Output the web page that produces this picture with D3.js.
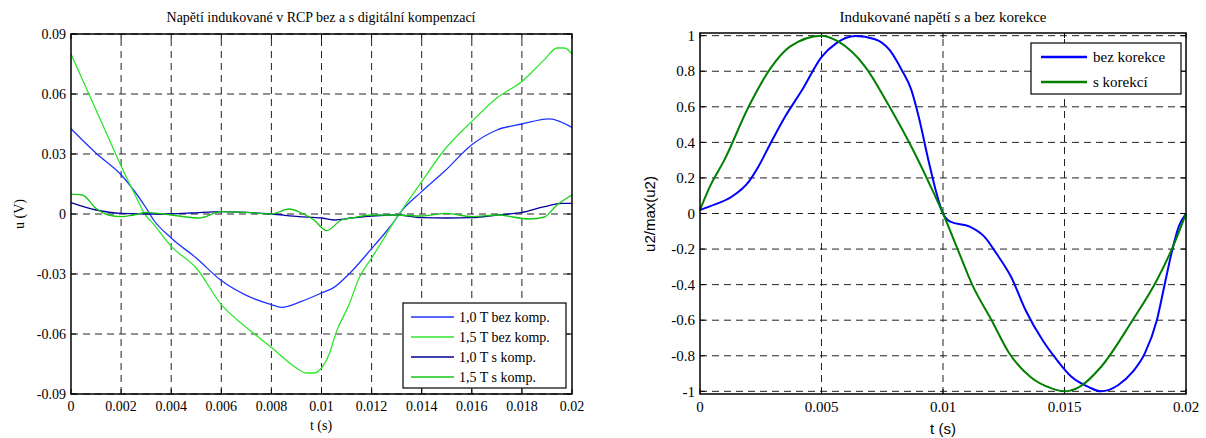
<!DOCTYPE html>
<meta charset="utf-8">
<head>
  <script src="https://d3js.org/d3.v7.min.js"></script>
</head>
<style>
body { margin: 0; background: white; }
.grid line { stroke: #222; stroke-dasharray: 7,5; stroke-width: 1; }
.serif { font-family: "Liberation Serif", "Times New Roman", serif; }
.sans { font-family: "Liberation Sans", Arial, sans-serif; }
</style>
<body>
<svg width="1206" height="438" id="container"></svg>
<script>

// ---- left chart data (t in s, u in V) ----
var t10bez = [0, 0.001, 0.002, 0.0025, 0.003, 0.0033, 0.004, 0.005, 0.006, 0.007, 0.008, 0.0084, 0.0092, 0.010, 0.0105, 0.0111, 0.012, 0.0125, 0.0129, 0.0131, 0.014, 0.0149, 0.016, 0.017, 0.018, 0.0191, 0.02];
var u10bez = [0.0426, 0.0304, 0.0196, 0.012, 0.003, -0.003, -0.012, -0.022, -0.0333, -0.0407, -0.0453, -0.0467, -0.0437, -0.0395, -0.0367, -0.030, -0.0173, -0.010, -0.0037, 0, 0.0112, 0.0212, 0.0346, 0.042, 0.045, 0.0476, 0.0433];

var t15bez = [0, 0.0005, 0.001, 0.0015, 0.002, 0.0025, 0.003, 0.0032, 0.004, 0.005, 0.006, 0.007, 0.008, 0.009, 0.0094, 0.0097, 0.010, 0.0103, 0.0106, 0.0111, 0.0115, 0.012, 0.0125, 0.0129, 0.0131, 0.014, 0.0149, 0.016, 0.017, 0.018, 0.0189, 0.0194, 0.0197, 0.02];
var u15bez = [0.080, 0.066, 0.052, 0.038, 0.024, 0.011, -0.001, -0.0037, -0.0162, -0.027, -0.0453, -0.0567, -0.0667, -0.077, -0.0795, -0.0795, -0.077, -0.0703, -0.0587, -0.0453, -0.032, -0.022, -0.012, -0.0037, 0, 0.0162, 0.032, 0.0463, 0.058, 0.0663, 0.0772, 0.083, 0.083, 0.080];

var t10s = [0, 0.001, 0.002, 0.0033, 0.0048, 0.006, 0.007, 0.008, 0.0091, 0.010, 0.0105, 0.0112, 0.012, 0.013, 0.014, 0.015, 0.016, 0.017, 0.018, 0.0189, 0.0196, 0.02];
var u10s = [0.0057, 0.002, 0.0003, 0, 0.0005, 0.0012, 0.0008, 0, -0.0013, -0.002, -0.003, -0.002, -0.001, -0.0005, -0.0018, -0.002, -0.0018, -0.0005, 0.0008, 0.0037, 0.0053, 0.0053];

var t15s = [0, 0.00045, 0.001, 0.0015, 0.002, 0.0025, 0.003, 0.004, 0.0051, 0.006, 0.007, 0.008, 0.0087, 0.0092, 0.0097, 0.0102, 0.0108, 0.0112, 0.012, 0.013, 0.014, 0.015, 0.016, 0.017, 0.0183, 0.0189, 0.0194, 0.02];
var u15s = [0.0099, 0.0095, 0.0028, -0.0005, -0.0013, -0.0005, 0.0008, -0.0005, -0.002, 0.0012, 0.0008, 0, 0.0025, 0.0005, -0.003, -0.0083, -0.003, -0.002, -0.0005, -0.0005, -0.001, 0.0003, -0.0013, -0.0005, -0.0025, -0.0015, 0.0045, 0.0095];

var leftXTicks = [0, 0.002, 0.004, 0.006, 0.008, 0.01, 0.012, 0.014, 0.016, 0.018, 0.02];
var leftYTicks = [-0.09, -0.06, -0.03, 0, 0.03, 0.06, 0.09];
var leftLabels = ['1,0 T bez komp.', '1,5 T bez komp.', '1,0 T s komp.', '1,5 T s komp.'];

// ---- right chart data (normalised) ----
var tBez = [0, 0.0004, 0.0013, 0.002, 0.0024, 0.0029, 0.0035, 0.0042, 0.005, 0.0056, 0.0064, 0.0072, 0.0078, 0.0083, 0.0087, 0.009, 0.0094, 0.0097, 0.01, 0.0103, 0.0111, 0.0117, 0.0122, 0.0128, 0.0134, 0.0141, 0.0147, 0.0153, 0.016, 0.0165, 0.0172, 0.0178, 0.0183, 0.0188, 0.0191, 0.0194, 0.0197, 0.02];
var uBez = [0.02, 0.04, 0.094, 0.178, 0.263, 0.394, 0.544, 0.694, 0.88, 0.957, 0.998, 0.98, 0.92, 0.807, 0.694, 0.544, 0.30, 0.131, 0, -0.046, -0.074, -0.13, -0.225, -0.356, -0.544, -0.713, -0.826, -0.92, -0.976, -1.0, -0.966, -0.891, -0.788, -0.6, -0.413, -0.225, -0.074, 0];

var tKor = [0, 0.0004, 0.001, 0.002, 0.0029, 0.0037, 0.005, 0.0057, 0.0068, 0.0078, 0.0087, 0.0095, 0.01, 0.0106, 0.0112, 0.012, 0.0127, 0.0136, 0.0145, 0.015, 0.0156, 0.0165, 0.0178, 0.0188, 0.0194, 0.02];
var uKor = [0.02, 0.15, 0.30, 0.60, 0.816, 0.938, 1.0, 0.966, 0.825, 0.60, 0.375, 0.15, 0, -0.2, -0.4, -0.6, -0.78, -0.92, -0.985, -1.0, -0.976, -0.863, -0.6, -0.375, -0.206, 0];

var rightXTicks = [0, 0.005, 0.01, 0.015, 0.02];
var rightYTicks = [-1, -0.8, -0.6, -0.4, -0.2, 0, 0.2, 0.4, 0.6, 0.8, 1];
var rightLabels = ['bez korekce', 's korekcí'];

var svg = d3.select('#container');
// plain hyphen minus like the original
var loc = d3.formatLocale({decimal: '.', thousands: ',', grouping: [3], currency: ['', ''], minus: '-'});

function zip(ts, us) {
  return ts.map(function(t, i) { return [t, us[i]]; });
}

function drawFrame(g, x, y, xTicks, yTicks, fmtX, fmtY, fs, boxW) {
  var x0 = x.range()[0], x1 = x.range()[1],
      y0 = y.range()[0], y1 = y.range()[1];

  var grid = g.append('g').attr('class', 'grid');
  grid.selectAll('.gx').data(xTicks.slice(1, -1)).enter().append('line')
      .attr('x1', function(d) { return x(d); }).attr('x2', function(d) { return x(d); })
      .attr('y1', y0).attr('y2', y1);
  grid.selectAll('.gy').data(yTicks).enter().append('line')
      .attr('y1', function(d) { return y(d); }).attr('y2', function(d) { return y(d); })
      .attr('x1', x0).attr('x2', x1);

  // inward ticks on all four sides
  var tk = g.append('g').attr('stroke', '#000').attr('stroke-width', 1);
  xTicks.forEach(function(d) {
    tk.append('line').attr('x1', x(d)).attr('x2', x(d)).attr('y1', y0).attr('y2', y0 - 5);
    tk.append('line').attr('x1', x(d)).attr('x2', x(d)).attr('y1', y1).attr('y2', y1 + 5);
  });
  yTicks.forEach(function(d) {
    tk.append('line').attr('y1', y(d)).attr('y2', y(d)).attr('x1', x0).attr('x2', x0 + 5);
    tk.append('line').attr('y1', y(d)).attr('y2', y(d)).attr('x1', x1).attr('x2', x1 - 5);
  });

  g.selectAll('.xl').data(xTicks).enter().append('text')
   .attr('class', 'serif')
   .attr('x', function(d) { return x(d); })
   .attr('y', y0 + fs + 3)
   .attr('text-anchor', 'middle')
   .attr('font-size', fs + 'px')
   .text(fmtX);
  g.selectAll('.yl').data(yTicks).enter().append('text')
   .attr('class', 'serif')
   .attr('x', x0 - 5)
   .attr('y', function(d) { return y(d); })
   .attr('dy', '0.35em')
   .attr('text-anchor', 'end')
   .attr('font-size', fs + 'px')
   .text(fmtY);

  return function() {
    g.append('rect')
     .attr('x', x0).attr('y', y1)
     .attr('width', x1 - x0).attr('height', y0 - y1)
     .attr('fill', 'none').attr('stroke', '#000').attr('stroke-width', boxW);
  };
}

// ---------------- left chart ----------------
var left = svg.append('g');
var xL = d3.scaleLinear().domain([0, 0.02]).range([71, 572]);
var yL = d3.scaleLinear().domain([-0.09, 0.09]).range([394, 34]);

var boxL = drawFrame(left, xL, yL, leftXTicks, leftYTicks,
  function(d) { return d === 0 ? '0' : loc.format('.3~f')(d); },
  function(d) { return d === 0 ? '0' : loc.format('.2f')(d); }, 14, 1.5);

var lineL = d3.line().x(function(d) { return xL(d[0]); }).y(function(d) { return yL(d[1]); })
              .curve(d3.curveMonotoneX);
var leftSeries = [
  {pts: zip(t10bez, u10bez), color: '#1f33ff'},
  {pts: zip(t15bez, u15bez), color: '#2ee62e'},
  {pts: zip(t10s, u10s), color: '#00009c'},
  {pts: zip(t15s, u15s), color: '#14c814'}
];
left.selectAll('.series').data(leftSeries).enter().append('path')
    .attr('fill', 'none')
    .attr('stroke', function(d) { return d.color; })
    .attr('stroke-width', 1.3)
    .attr('d', function(d) { return lineL(d.pts); });
boxL();

left.append('text').attr('class', 'serif')
    .attr('x', 321).attr('y', 22).attr('text-anchor', 'middle').attr('font-size', '14px')
    .text('Napětí indukované v RCP bez a s digitální kompenzací');
left.append('text').attr('class', 'serif')
    .attr('x', 321).attr('y', 430).attr('text-anchor', 'middle').attr('font-size', '14px')
    .text('t (s)');
left.append('text').attr('class', 'serif')
    .attr('transform', 'translate(24,214) rotate(-90)')
    .attr('text-anchor', 'middle').attr('font-size', '14px')
    .text('u (V)');

// legend
var legL = left.append('g');
legL.append('rect').attr('x', 403).attr('y', 303).attr('width', 163).attr('height', 85)
    .attr('fill', 'white').attr('stroke', '#000').attr('stroke-width', 1.2);
leftLabels.forEach(function(lab, i) {
  var yy = 317 + i * 20;
  legL.append('line').attr('x1', 411).attr('x2', 454).attr('y1', yy).attr('y2', yy)
      .attr('stroke', leftSeries[i].color).attr('stroke-width', 1.3);
  legL.append('text').attr('class', 'serif').attr('x', 459).attr('y', yy).attr('dy', '0.35em')
      .attr('font-size', '14px').text(lab);
});

// ---------------- right chart ----------------
var right = svg.append('g');
var xR = d3.scaleLinear().domain([0, 0.02]).range([700, 1186]);
var yR = d3.scaleLinear().domain([-1.015, 1.015]).range([394, 33]);

var boxR = drawFrame(right, xR, yR, rightXTicks, rightYTicks,
  function(d) { return d === 0 ? '0' : loc.format('.3~f')(d); },
  function(d) { return d === 0 ? '0' : (Math.abs(d) === 1 ? loc.format('d')(d) : loc.format('.1f')(d)); }, 15, 1.5);

var lineR = d3.line().x(function(d) { return xR(d[0]); }).y(function(d) { return yR(d[1]); })
              .curve(d3.curveMonotoneX);
var rightSeries = [
  {pts: zip(tBez, uBez), color: '#0000ff'},
  {pts: zip(tKor, uKor), color: '#007f00'}
];
right.selectAll('.series').data(rightSeries).enter().append('path')
     .attr('fill', 'none')
     .attr('stroke', function(d) { return d.color; })
     .attr('stroke-width', 2)
     .attr('d', function(d) { return lineR(d.pts); });
boxR();

right.append('text').attr('class', 'serif')
     .attr('x', 943).attr('y', 22).attr('text-anchor', 'middle').attr('font-size', '15px')
     .text('Indukované napětí s a bez korekce');
right.append('text').attr('class', 'sans')
     .attr('x', 943).attr('y', 434).attr('text-anchor', 'middle').attr('font-size', '15px')
     .text('t (s)');
right.append('text').attr('class', 'sans')
     .attr('transform', 'translate(655,214) rotate(-90)')
     .attr('text-anchor', 'middle').attr('font-size', '15px')
     .text('u2/max(u2)');

var legR = right.append('g');
legR.append('rect').attr('x', 1031).attr('y', 43).attr('width', 150).attr('height', 51)
    .attr('fill', 'white').attr('stroke', '#000').attr('stroke-width', 1.2);
rightLabels.forEach(function(lab, i) {
  var yy = 57 + i * 25;
  legR.append('line').attr('x1', 1041).attr('x2', 1087).attr('y1', yy).attr('y2', yy)
      .attr('stroke', rightSeries[i].color).attr('stroke-width', 2.5);
  legR.append('text').attr('class', 'serif').attr('x', 1093).attr('y', yy).attr('dy', '0.35em')
      .attr('font-size', '15px').text(lab);
});

</script>
</body>
